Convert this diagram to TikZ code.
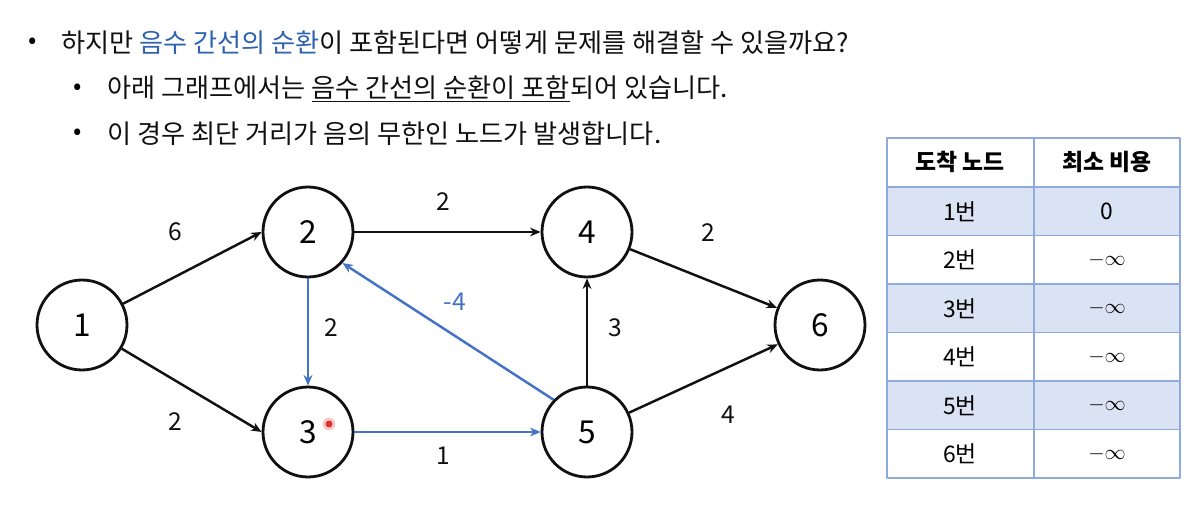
\documentclass[tikz,border=0pt]{standalone}
\usepackage{fontspec}
\setmainfont{Noto Sans CJK KR}
\usetikzlibrary{positioning, arrows.meta}
\definecolor{figink}{HTML}{111111}
\definecolor{figblue}{HTML}{4472C4}
\definecolor{figtext}{HTML}{2F62B0}
\definecolor{tabline}{HTML}{8FAADC}
\definecolor{tabfill}{HTML}{DAE3F3}
\definecolor{dotred}{HTML}{E03030}

\begin{document}
\begin{tikzpicture}[
  x=0.02cm, y=-0.02cm,
  line width=1.4pt, line join=round,
  >={Stealth[length=6pt, width=5pt]},
  vtx/.style = {draw=figink, circle, line width=1.6pt, minimum size=1.8cm,
                inner sep=0pt, font=\fontsize{18}{18}\selectfont},
  wt/.style  = {font=\fontsize{14}{14}\selectfont, color=figink, inner sep=0pt},
  edg/.style = {->, draw=figink},
  neg/.style = {->, draw=figblue},
  txt/.style = {anchor=west, inner sep=0pt, font=\fontsize{14.9}{16}\selectfont, color=figink},
  bul/.style = {inner sep=0pt, font=\fontsize{14}{14}\selectfont},
  cell/.style = {font=\fontsize{13}{14}\selectfont, inner sep=0pt}
]
\useasboundingbox (0,0) rectangle (1193,509);

% 설명 문장
\node[bul] (b1) at (33,43) {•};
\node[txt] (t1) at (60,43) {하지만 \textcolor{figtext}{음수 간선의 순환}이 포함된다면 어떻게 문제를 해결할 수 있을까요?};
\node[bul] (b2) at (78,89) {•};
\node[txt] (t2) at (106,89) {아래 그래프에서는 \underline{음수 간선의 순환이 포함}되어 있습니다.};
\node[bul] (b3) at (78,134) {•};
\node[txt] (t3) at (106,134) {이 경우 최단 거리가 음의 무한인 노드가 발생합니다.};

% 그래프
\node[vtx] (n1) at (82,325) {1};
\node[vtx] (n2) at (308,232) {2};
\node[vtx] (n3) at (308,432) {3};
\node[vtx] (n4) at (587,232) {4};
\node[vtx] (n5) at (587,432) {5};
\node[vtx] (n6) at (820,325) {6};

\draw[edg] (n1) -- (n2.west);
\draw[edg] (n1) -- (n3.west);
\draw[edg] (n2.east) -- (n4.west);
\draw[edg] (n5.north) -- (n4.south);
\draw[edg] (n4) -- (n6);
\draw[edg] (n5) -- (n6);
\draw[neg] (n2.south) -- (n3.north);
\draw[neg] (n3.east) -- (n5.west);
\draw[neg] (n5.136) -- (n2.-42);

\node[wt] (w12) at (175,232) {6};
\node[wt] (w13) at (175,422) {2};
\node[wt] (w24) at (443,202) {2};
\node[wt] (w23) at (331,328) {2};
\node[wt, color=figblue] (w52) at (455,302) {-4};
\node[wt] (w54) at (615,328) {3};
\node[wt] (w46) at (708,233) {2};
\node[wt] (w56) at (728,415) {4};
\node[wt] (w35) at (443,456) {1};

% 포인터 점
\fill[dotred!25] (329,424) circle (0.13cm);
\fill[dotred] (329,424) circle (0.07cm);

% 최소 비용 표
\foreach \i in {1,3,5}
  \fill[tabfill] (887,{187+48.5*(\i-1)}) rectangle (1180,{187+48.5*\i});
\foreach \i in {0,...,5}
  \draw[tabline, line width=0.8pt] (887,{187+48.5*\i}) -- (1180,{187+48.5*\i});
\draw[tabline, line width=0.8pt] (1034,138) -- (1034,478);
\draw[tabline, line width=1pt] (887,138) rectangle (1180,478);

\node[cell] (h1) at (960,162) {\bfseries 도착 노드};
\node[cell] (h2) at (1107,162) {\bfseries 최소 비용};
\foreach \i/\c in {1/0, 2/$-\infty$, 3/$-\infty$, 4/$-\infty$, 5/$-\infty$, 6/$-\infty$}{
  \node[cell] (k\i) at (960,{162.75+48.5*\i}) {{\i}번};
  \node[cell] (c\i) at (1107,{162.75+48.5*\i}) {\c};
}

\end{tikzpicture}
\end{document}
